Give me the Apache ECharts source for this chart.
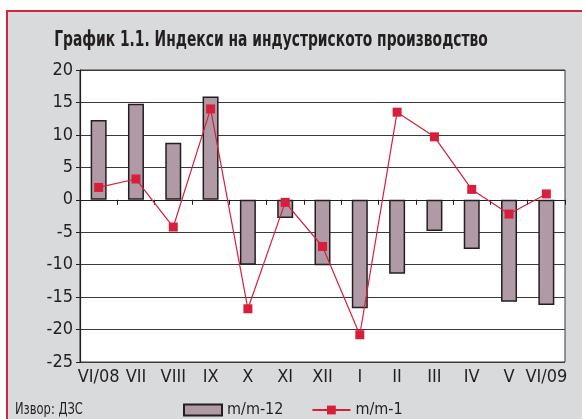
<!DOCTYPE html>
<html>
<head>
<meta charset="utf-8">
<script src="https://cdn.jsdelivr.net/npm/echarts@6/dist/echarts.min.js"></script>
<style>
  html, body { margin: 0; padding: 0; background: #fff; }
  #chart { width: 582px; height: 419px; }
</style>
</head>
<body>
<div id="chart"></div>
<script>
const months = ['VI/08', 'VII', 'VIII', 'IX', 'X', 'XI', 'XII', 'I', 'II', 'III', 'IV', 'V', 'VI/09']
const yoy = [12.3, 14.8, 8.8, 15.9, -10, -2.8, -10.1, -16.7, -11.4, -4.8, -7.6, -15.7, -16.2]
const mom = [1.9, 3.2, -4.2, 14, -16.8, -0.4, -7.2, -20.8, 13.5, 9.7, 1.6, -2.2, 0.9]
const yTicks = [-25, 20, 5]

const font = "'DejaVu Sans Condensed', 'Liberation Sans Narrow', sans-serif"
const ink = '#231f20'
const red = '#d71f3c'

const chart = echarts.init(document.getElementById('chart'))

chart.setOption({
  backgroundColor: '#fff',
  animation: false,
  textStyle: { fontFamily: font, color: ink },
  graphic: [
    {
      type: 'rect',
      shape: { x: 7, y: 11, width: 600, height: 430 },
      style: { fill: '#d9dadc', stroke: '#d2233f', lineWidth: 2 },
      z: -10
    },
    {
      // title, squeezed to look like the condensed face of the original
      type: 'text',
      x: 271,
      y: 40,
      scaleX: 0.7,
      style: {
        text: 'График 1.1. Индекси на индустриското производство',
        font: 'bold 22px ' + font,
        fill: ink,
        align: 'center',
        verticalAlign: 'middle'
      }
    },
    {
      type: 'text',
      x: 15,
      y: 402,
      scaleX: 0.8,
      style: { text: 'Извор: ДЗС', font: '16px ' + font, fill: ink }
    }
  ],
  legend: {
    left: 178,
    top: 397,
    itemWidth: 38,
    itemHeight: 11,
    itemGap: 28,
    textStyle: { fontFamily: font, fontSize: 16, color: ink },
    data: [
      { name: 'm/m-12', icon: 'rect' },
      { name: 'm/m-1' }
    ]
  },
  grid: {
    left: 80,
    top: 70,
    right: 17,
    bottom: 57,
    show: true,
    backgroundColor: '#fff',
    borderColor: '#3a3a3a',
    borderWidth: 1
  },
  xAxis: [
    {
      type: 'category',
      data: months,
      position: 'bottom',
      axisLine: { show: false, onZero: false },
      axisTick: { show: false },
      axisLabel: { fontSize: 18, color: ink, margin: 6, interval: 0 }
    },
    {
      type: 'category',
      data: months,
      position: 'top',
      axisLine: { show: true, onZero: true, lineStyle: { color: ink, width: 1.2 } },
      axisTick: { show: true, inside: true, length: 5, lineStyle: { color: ink } },
      axisLabel: { show: false }
    }
  ],
  yAxis: {
    type: 'value',
    min: yTicks[0],
    max: yTicks[1],
    interval: yTicks[2],
    axisLine: { show: true, lineStyle: { color: ink, width: 1.2 } },
    axisTick: { show: true, length: 4, lineStyle: { color: ink } },
    axisLabel: { fontSize: 18, color: ink, margin: 7 },
    splitLine: { lineStyle: { color: '#3a3a3a', width: 1 } }
  },
  series: [
    {
      name: 'm/m-12',
      type: 'bar',
      data: yoy,
      barWidth: 16,
      itemStyle: { color: '#b09aa5', borderColor: ink, borderWidth: 1.5 }
    },
    {
      name: 'm/m-1',
      type: 'line',
      data: mom,
      symbol: 'rect',
      symbolSize: 9,
      itemStyle: { color: red },
      lineStyle: { color: red, width: 1.2 },
      z: 3
    }
  ]
})
</script>
</body>
</html>
